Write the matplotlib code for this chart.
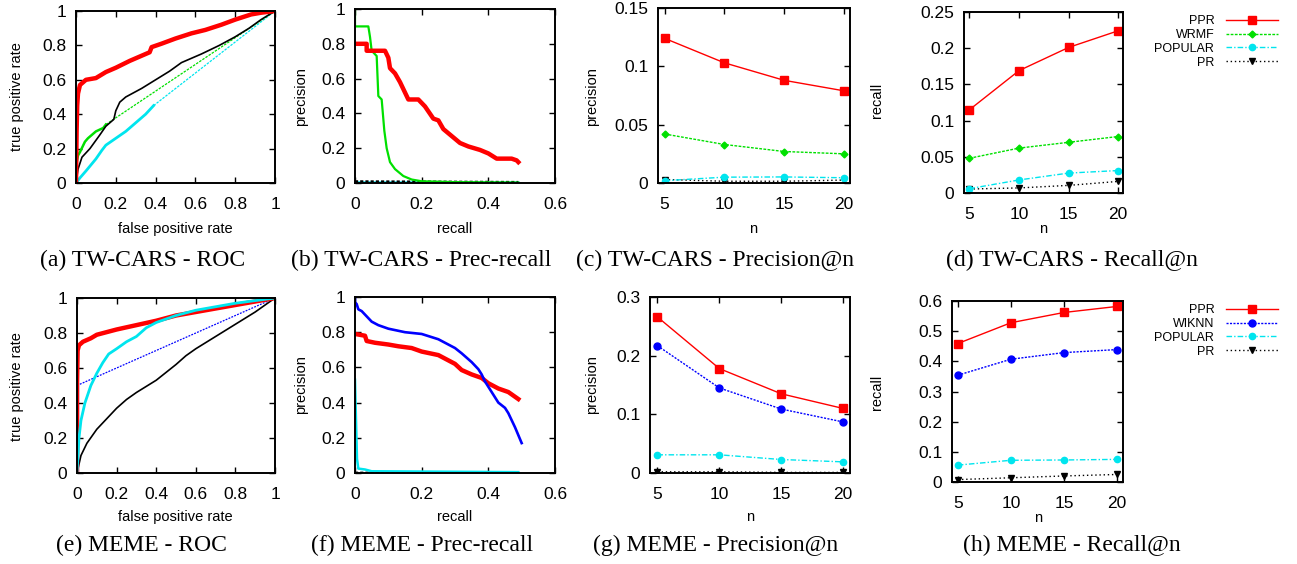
import matplotlib
matplotlib.use("Agg")
import matplotlib.pyplot as plt
from matplotlib.ticker import FuncFormatter

plt.rcParams['font.family'] = ['Liberation Sans', 'DejaVu Sans']

W, H = 1297, 564

# ---------------- data ----------------
n_vals = [5, 10, 15, 20]

# TW-CARS precision@n / recall@n
tw_prec_ppr = [0.124, 0.103, 0.088, 0.079]
tw_prec_wrmf = [0.042, 0.033, 0.027, 0.025]
tw_prec_popular = [0.002, 0.005, 0.0052, 0.0045]
tw_prec_pr = [0.003, 0.0015, 0.0015, 0.0025]

tw_rec_ppr = [0.115, 0.169, 0.201, 0.224]
tw_rec_wrmf = [0.048, 0.062, 0.070, 0.078]
tw_rec_popular = [0.006, 0.018, 0.0275, 0.031]
tw_rec_pr = [0.0055, 0.007, 0.0105, 0.016]

# MEME precision@n / recall@n
meme_prec_ppr = [0.266, 0.178, 0.135, 0.110]
meme_prec_wiknn = [0.217, 0.145, 0.109, 0.087]
meme_prec_popular = [0.031, 0.031, 0.023, 0.019]
meme_prec_pr = [0.002, 0.002, 0.001, 0.001]

meme_rec_ppr = [0.459, 0.528, 0.562, 0.582]
meme_rec_wiknn = [0.354, 0.407, 0.429, 0.439]
meme_rec_popular = [0.056, 0.072, 0.073, 0.075]
meme_rec_pr = [0.008, 0.014, 0.020, 0.025]

# TW-CARS ROC
tw_roc_ppr_fpr = [0, 0.003, 0.006, 0.01, 0.02, 0.05, 0.1, 0.15, 0.2, 0.27, 0.33, 0.37, 0.38,
                  0.43, 0.5, 0.58, 0.65, 0.73, 0.8, 0.88, 0.93, 1]
tw_roc_ppr_tpr = [0, 0.3, 0.45, 0.52, 0.57, 0.6, 0.61, 0.645, 0.67, 0.71, 0.74, 0.76, 0.79,
                  0.81, 0.84, 0.87, 0.89, 0.92, 0.95, 0.98, 0.99, 1]
tw_roc_wrmf_fpr = [0, 0.003, 0.01, 0.02, 0.045, 0.06, 0.1, 0.137, 0.15, 1]
tw_roc_wrmf_tpr = [0, 0.12, 0.16, 0.18, 0.24, 0.26, 0.30, 0.32, 0.34, 1]
tw_roc_popular_fpr = [0, 0.02, 0.05, 0.1, 0.13, 0.15, 0.2, 0.25, 0.3, 0.35, 0.39, 1]
tw_roc_popular_tpr = [0, 0.03, 0.07, 0.14, 0.19, 0.22, 0.26, 0.3, 0.35, 0.4, 0.45, 1]
tw_roc_pr_fpr = [0, 0.01, 0.03, 0.07, 0.12, 0.15, 0.19, 0.2, 0.22, 0.25, 0.33, 0.4, 0.47,
                 0.53, 0.63, 0.72, 0.8, 0.87, 0.93, 1]
tw_roc_pr_tpr = [0, 0.08, 0.15, 0.2, 0.28, 0.33, 0.37, 0.42, 0.47, 0.5, 0.55, 0.6, 0.65,
                 0.7, 0.75, 0.8, 0.85, 0.9, 0.95, 1]

# TW-CARS precision-recall
tw_pr_ppr_rec = [0, 0.035, 0.035, 0.09, 0.1, 0.105, 0.12, 0.135, 0.15, 0.16, 0.19, 0.21, 0.235,
                 0.25, 0.265, 0.29, 0.315, 0.34, 0.375, 0.4, 0.425, 0.47, 0.485, 0.49]
tw_pr_ppr_prec = [0.8, 0.8, 0.76, 0.76, 0.72, 0.66, 0.63, 0.58, 0.52, 0.48, 0.48, 0.44, 0.37,
                  0.36, 0.31, 0.27, 0.23, 0.21, 0.19, 0.17, 0.14, 0.14, 0.13, 0.12]
tw_pr_wrmf_rec = [0, 0, 0.04, 0.045, 0.05, 0.065, 0.07, 0.08, 0.088, 0.095, 0.105, 0.12,
                  0.145, 0.17, 0.2, 0.3, 0.49]
tw_pr_wrmf_prec = [1, 0.9, 0.9, 0.84, 0.76, 0.73, 0.5, 0.48, 0.3, 0.2, 0.12, 0.08,
                   0.04, 0.02, 0.01, 0.005, 0.002]
tw_pr_popular_rec = [0, 0.49]
tw_pr_popular_prec = [0.004, 0.003]
tw_pr_pr_rec = [0, 0.49]
tw_pr_pr_prec = [0.01, 0.006]

# MEME ROC
meme_roc_ppr_fpr = [0, 0, 0.003, 0.01, 0.03, 0.07, 0.1, 0.2, 0.3, 0.4, 0.5, 0.6, 0.7, 0.8, 0.9, 1]
meme_roc_ppr_tpr = [0, 0.5, 0.7, 0.73, 0.75, 0.77, 0.79, 0.82, 0.845, 0.87, 0.9, 0.92, 0.94,
                    0.96, 0.98, 1]
meme_roc_wiknn_fpr = [0, 0, 1]
meme_roc_wiknn_tpr = [0, 0.5, 1]
meme_roc_popular_fpr = [0, 0.01, 0.02, 0.04, 0.07, 0.1, 0.13, 0.16, 0.2, 0.25, 0.3, 0.35, 0.4,
                        0.45, 0.5, 0.6, 0.7, 0.8, 0.9, 1]
meme_roc_popular_tpr = [0, 0.2, 0.3, 0.4, 0.5, 0.57, 0.63, 0.68, 0.71, 0.75, 0.78, 0.83, 0.86,
                        0.88, 0.9, 0.93, 0.95, 0.97, 0.985, 1]
meme_roc_pr_fpr = [0, 0.02, 0.05, 0.1, 0.15, 0.2, 0.25, 0.3, 0.4, 0.5, 0.55, 0.6, 0.7, 0.8, 0.9, 1]
meme_roc_pr_tpr = [0, 0.1, 0.17, 0.25, 0.31, 0.37, 0.42, 0.46, 0.53, 0.62, 0.67, 0.71, 0.78,
                   0.85, 0.92, 1]

# MEME precision-recall
meme_pr_ppr_rec = [0, 0.03, 0.035, 0.06, 0.1, 0.13, 0.17, 0.2, 0.25, 0.27, 0.3, 0.32, 0.35,
                   0.38, 0.4, 0.43, 0.46, 0.49]
meme_pr_ppr_prec = [0.79, 0.78, 0.75, 0.74, 0.73, 0.72, 0.71, 0.69, 0.67, 0.65, 0.62, 0.585,
                    0.56, 0.54, 0.51, 0.48, 0.46, 0.42]
meme_pr_wiknn_rec = [0, 0, 0.005, 0.01, 0.02, 0.03, 0.05, 0.07, 0.1, 0.15, 0.2, 0.25, 0.28, 0.3,
                     0.32, 0.35, 0.37, 0.38, 0.39, 0.41, 0.43, 0.45, 0.46, 0.48, 0.5]
meme_pr_wiknn_prec = [1, 0.97, 0.96, 0.93, 0.92, 0.9, 0.86, 0.84, 0.82, 0.8, 0.79, 0.76, 0.73,
                      0.71, 0.68, 0.63, 0.59, 0.56, 0.52, 0.46, 0.40, 0.37, 0.34, 0.26, 0.17]
meme_pr_popular_rec = [0, 0.003, 0.006, 0.01, 0.03, 0.05, 0.49]
meme_pr_popular_prec = [0.53, 0.3, 0.08, 0.025, 0.02, 0.01, 0.005]
meme_pr_pr_rec = [0, 0.49]
meme_pr_pr_prec = [0.002, 0.001]

# ---------------- styles ----------------
RED = '#ff0000'
GREEN = '#00e000'
CYAN = '#00e5ee'
BLUE = '#0000ff'
BLACK = '#000000'

STY = {
    'PPR': dict(color=RED, ls='-', marker='s', ms=6, lw=1),
    'WRMF': dict(color=GREEN, ls=(0, (2, 1)), marker='D', ms=3.5, lw=1),
    'WIKNN': dict(color=BLUE, ls=(0, (1.5, 1)), marker='o', ms=5, lw=1),
    'POPULAR': dict(color=CYAN, ls=(0, (4, 1.5, 1, 1.5)), marker='o', ms=4.5, lw=1),
    'PR': dict(color=BLACK, ls=(0, (1, 2)), marker='v', ms=5, lw=1),
}

fmt = FuncFormatter(lambda v, p: '%g' % round(v, 6))


def px_box(l, t, r, b):
    return [l / W, 1 - b / H, (r - l) / W, (b - t) / H]


def setup(ax, xlim, xticks, ylim, yticks):
    ax.set_xlim(*xlim)
    ax.set_ylim(*ylim)
    ax.set_xticks(xticks)
    ax.set_yticks(yticks)
    ax.xaxis.set_major_formatter(fmt)
    ax.yaxis.set_major_formatter(fmt)
    ax.tick_params(direction='in', length=4, width=1, top=True, right=True,
                   labelsize=12.5, pad=7)
    ax.tick_params(axis='x', pad=10)
    for s in ax.spines.values():
        s.set_linewidth(1.4)


def curve(ax, x, y, color, lw, thick_upto=None, thin_ls='-', thin_lw=0.9):
    if thick_upto is None:
        ax.plot(x, y, color=color, lw=lw)
    else:
        ax.plot(x[:thick_upto + 1], y[:thick_upto + 1], color=color, lw=lw)
        ax.plot(x[thick_upto:], y[thick_upto:], color=color, lw=thin_lw, ls=thin_ls)


def ftext(x, y, s, **kw):
    fig.text(x / W, 1 - y / H, s, ha='center', va='center', **kw)


fig = plt.figure(figsize=(W / 100, H / 100), dpi=100)

unit_ticks = [0, 0.2, 0.4, 0.6, 0.8, 1]
pr_ticks = [0, 0.2, 0.4, 0.6]
leg_kw = dict(loc='upper right', frameon=False, markerfirst=False, fontsize=9,
              handlelength=4.2, handletextpad=0.9, labelspacing=0.15, numpoints=1,
              borderaxespad=0)

# (a) TW-CARS ROC
ax = fig.add_axes(px_box(76, 11, 275, 183))
setup(ax, (0, 1), unit_ticks, (0, 1), unit_ticks)
curve(ax, tw_roc_popular_fpr, tw_roc_popular_tpr, CYAN, 2, thick_upto=10, thin_ls=(0, (2, 1)))
curve(ax, tw_roc_wrmf_fpr, tw_roc_wrmf_tpr, GREEN, 1.8, thick_upto=8, thin_ls=(0, (2, 1)))
curve(ax, tw_roc_pr_fpr, tw_roc_pr_tpr, BLACK, 1.2)
curve(ax, tw_roc_ppr_fpr, tw_roc_ppr_tpr, RED, 3.2)

# (b) TW-CARS precision-recall
ax = fig.add_axes(px_box(355, 9, 555, 183))
setup(ax, (0, 0.6), pr_ticks, (0, 1), unit_ticks)
curve(ax, tw_pr_popular_rec, tw_pr_popular_prec, CYAN, 1.5)
ax.plot(tw_pr_pr_rec, tw_pr_pr_prec, color=BLACK, lw=1.5, ls=(0, (1.5, 1)))
curve(ax, tw_pr_wrmf_rec, tw_pr_wrmf_prec, GREEN, 1.6)
curve(ax, tw_pr_ppr_rec, tw_pr_ppr_prec, RED, 3.2)

# (c) TW-CARS precision@n
ax = fig.add_axes(px_box(658, 8, 850, 183))
setup(ax, (4.45, 20.5), n_vals, (0, 0.15), [0, 0.05, 0.1, 0.15])
ax.plot(n_vals, tw_prec_pr, **STY['PR'])
ax.plot(n_vals, tw_prec_popular, **STY['POPULAR'])
ax.plot(n_vals, tw_prec_wrmf, **STY['WRMF'])
ax.plot(n_vals, tw_prec_ppr, **STY['PPR'])

# (d) TW-CARS recall@n
ax = fig.add_axes(px_box(964, 12, 1123, 193))
setup(ax, (4.45, 20.5), n_vals, (0, 0.25), [0, 0.05, 0.1, 0.15, 0.2, 0.25])
h_pr, = ax.plot(n_vals, tw_rec_pr, **STY['PR'])
h_pop, = ax.plot(n_vals, tw_rec_popular, **STY['POPULAR'])
h_wrmf, = ax.plot(n_vals, tw_rec_wrmf, **STY['WRMF'])
h_ppr, = ax.plot(n_vals, tw_rec_ppr, **STY['PPR'])
fig.legend([h_ppr, h_wrmf, h_pop, h_pr], ['PPR', 'WRMF', 'POPULAR', 'PR'],
           bbox_to_anchor=(1283 / W, 1 - 10 / H), **leg_kw)

# (e) MEME ROC
ax = fig.add_axes(px_box(77, 298, 275, 473))
setup(ax, (0, 1), unit_ticks, (0, 1), unit_ticks)
curve(ax, meme_roc_pr_fpr, meme_roc_pr_tpr, BLACK, 1.2)
curve(ax, meme_roc_wiknn_fpr, meme_roc_wiknn_tpr, BLUE, 3, thick_upto=1, thin_ls=(0, (1.5, 1)))
curve(ax, meme_roc_ppr_fpr, meme_roc_ppr_tpr, RED, 3.2)
curve(ax, meme_roc_popular_fpr, meme_roc_popular_tpr, CYAN, 2)

# (f) MEME precision-recall
ax = fig.add_axes(px_box(355, 297, 555, 473))
setup(ax, (0, 0.6), pr_ticks, (0, 1), unit_ticks)
ax.plot(meme_pr_pr_rec, meme_pr_pr_prec, color=BLACK, lw=1.5, ls=(0, (1.5, 1)))
curve(ax, meme_pr_popular_rec, meme_pr_popular_prec, CYAN, 1.8)
curve(ax, meme_pr_ppr_rec, meme_pr_ppr_prec, RED, 3.2)
curve(ax, meme_pr_wiknn_rec, meme_pr_wiknn_prec, BLUE, 1.9)

# (g) MEME precision@n
ax = fig.add_axes(px_box(650, 297, 850, 473))
setup(ax, (4.4, 20.55), n_vals, (0, 0.3), [0, 0.1, 0.2, 0.3])
ax.plot(n_vals, meme_prec_pr, **STY['PR'])
ax.plot(n_vals, meme_prec_popular, **STY['POPULAR'])
ax.plot(n_vals, meme_prec_wiknn, **STY['WIKNN'])
ax.plot(n_vals, meme_prec_ppr, **STY['PPR'])

# (h) MEME recall@n
ax = fig.add_axes(px_box(952, 301, 1123, 482))
setup(ax, (4.45, 20.55), n_vals, (0, 0.6), [0, 0.1, 0.2, 0.3, 0.4, 0.5, 0.6])
h_pr, = ax.plot(n_vals, meme_rec_pr, **STY['PR'])
h_pop, = ax.plot(n_vals, meme_rec_popular, **STY['POPULAR'])
h_wik, = ax.plot(n_vals, meme_rec_wiknn, **STY['WIKNN'])
h_ppr, = ax.plot(n_vals, meme_rec_ppr, **STY['PPR'])
fig.legend([h_ppr, h_wik, h_pop, h_pr], ['PPR', 'WIKNN', 'POPULAR', 'PR'],
           bbox_to_anchor=(1283 / W, 1 - 299 / H), **leg_kw)

# axis labels
lab = dict(fontsize=10.5)
ftext(17, 97, 'true positive rate', rotation=90, **lab)
ftext(175, 229, 'false positive rate', **lab)
ftext(301, 97, 'precision', rotation=90, **lab)
ftext(455, 229, 'recall', **lab)
ftext(592, 97, 'precision', rotation=90, **lab)
ftext(753, 229, 'n', **lab)
ftext(877, 100, 'recall', rotation=90, **lab)
ftext(1043, 229, 'n', **lab)

ftext(17, 387, 'true positive rate', rotation=90, **lab)
ftext(175, 517, 'false positive rate', **lab)
ftext(301, 385, 'precision', rotation=90, **lab)
ftext(455, 517, 'recall', **lab)
ftext(592, 385, 'precision', rotation=90, **lab)
ftext(750, 517, 'n', **lab)
ftext(877, 392, 'recall', rotation=90, **lab)
ftext(1038, 518, 'n', **lab)

# captions
cap = dict(fontsize=17, family='Liberation Serif')
ftext(143, 260, '(a) TW-CARS - ROC', **cap)
ftext(421, 260, '(b) TW-CARS - Prec-recall', **cap)
ftext(715, 260, '(c) TW-CARS - Precision@n', **cap)
ftext(1072, 260, '(d) TW-CARS - Recall@n', **cap)
ftext(141, 545, '(e) MEME - ROC', **cap)
ftext(422, 545, '(f) MEME - Prec-recall', **cap)
ftext(716, 545, '(g) MEME - Precision@n', **cap)
ftext(1072, 545, '(h) MEME - Recall@n', **cap)

fig.savefig('out.png', dpi=100)
